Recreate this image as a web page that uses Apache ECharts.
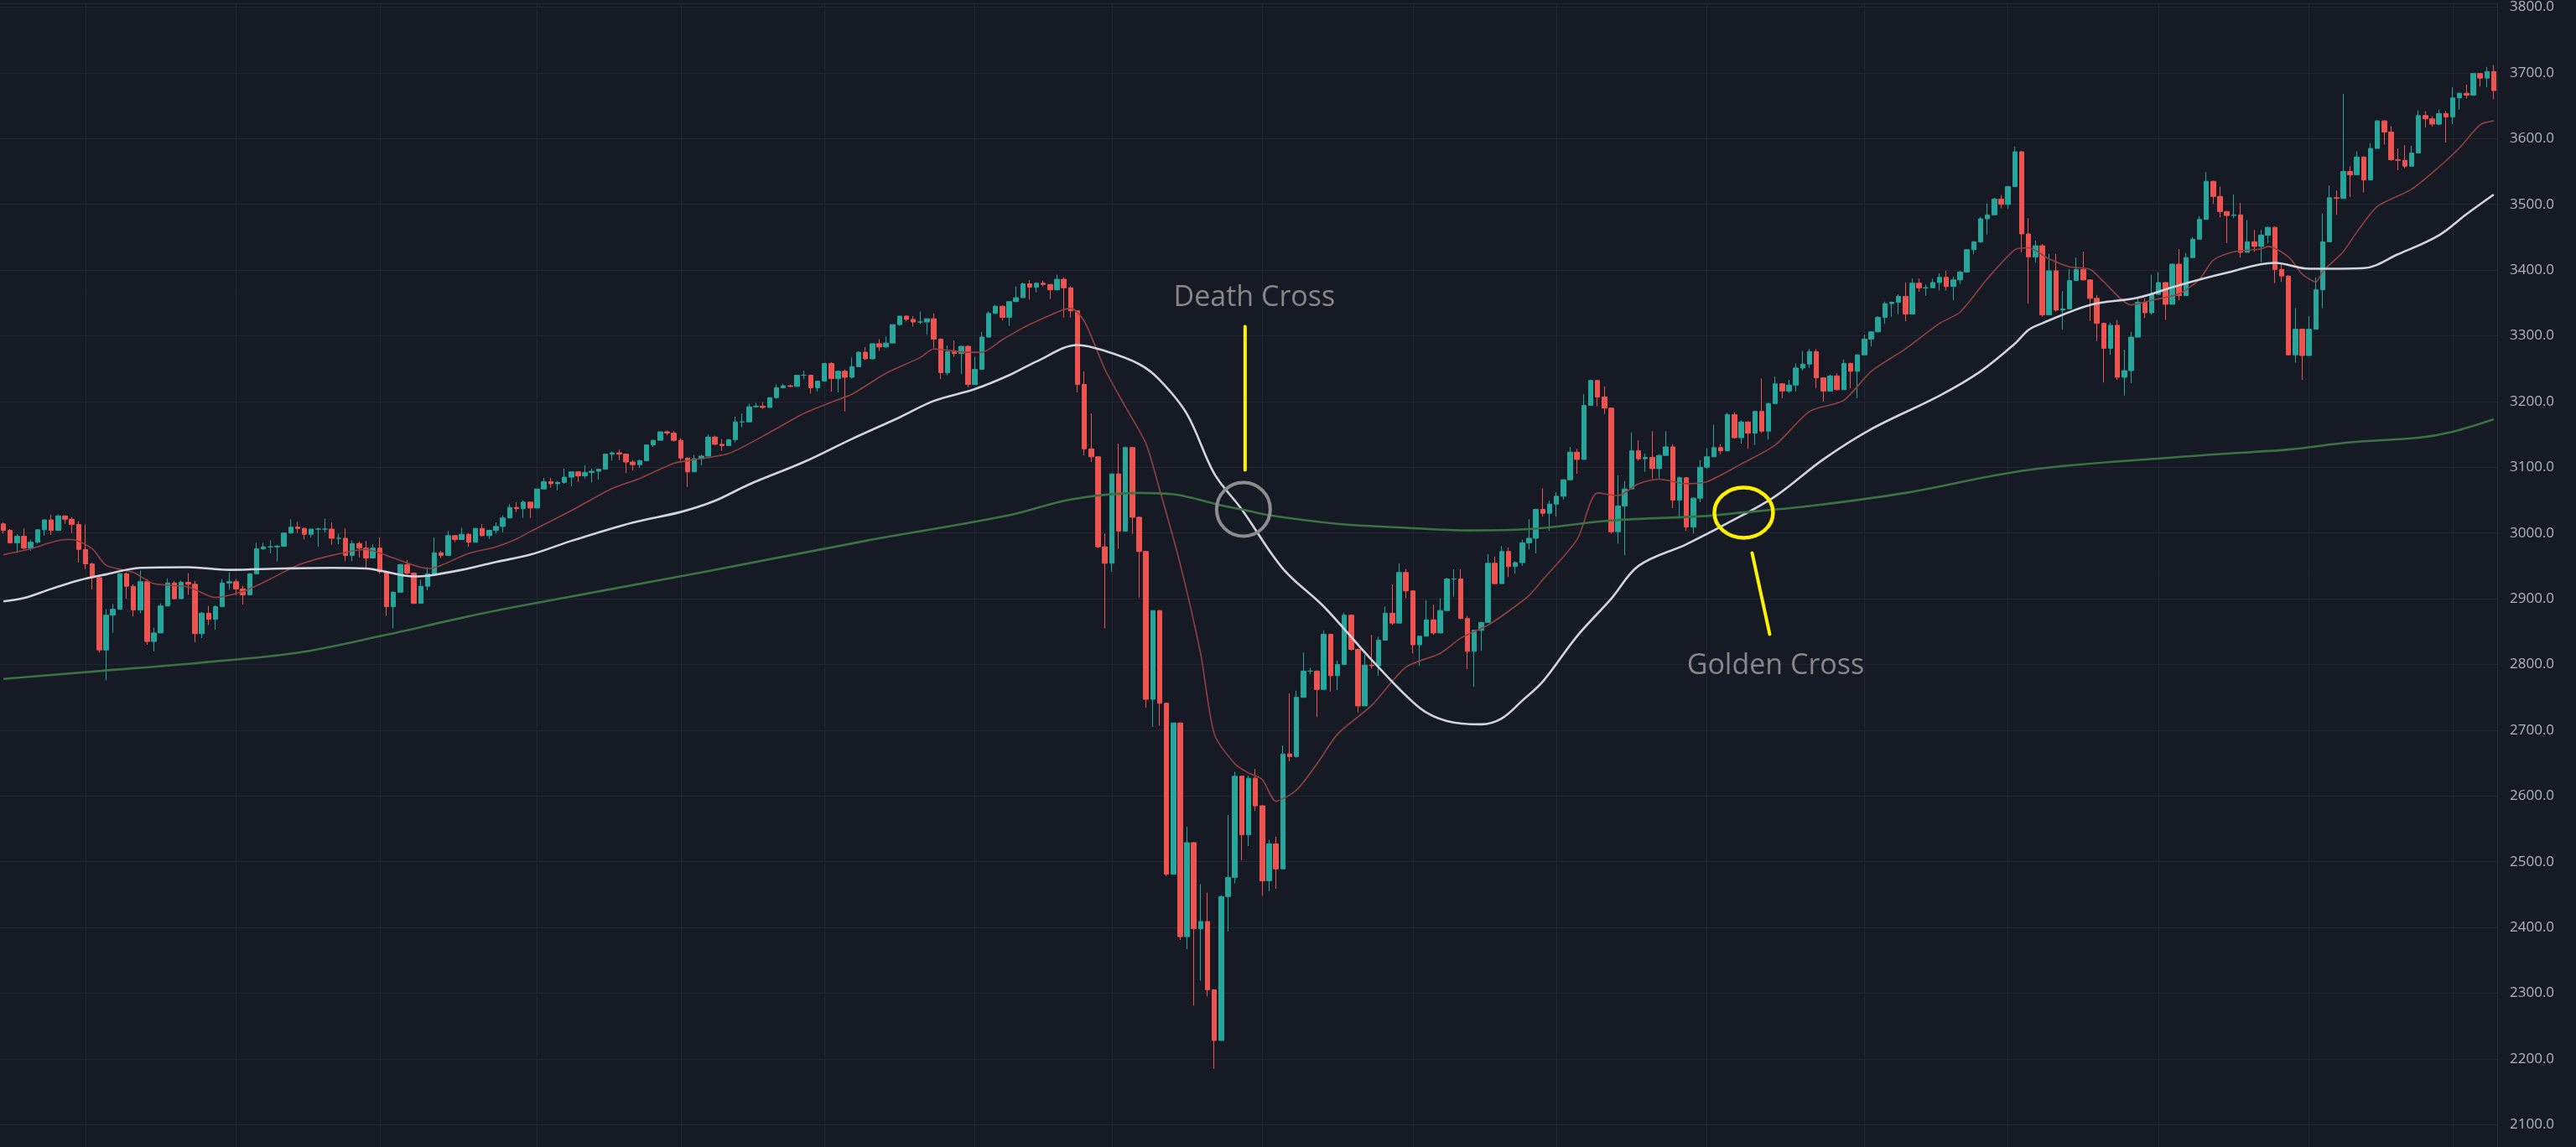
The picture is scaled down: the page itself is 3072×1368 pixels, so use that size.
<!DOCTYPE html>
<html>
<head>
<meta charset="utf-8">
<script src="https://cdn.jsdelivr.net/npm/echarts@6/dist/echarts.min.js"></script>
<style>
html,body{margin:0;padding:0;background:#161a25;}
#chart{width:3072px;height:1368px;}
</style>
</head>
<body>
<div id="chart"></div>
<script>
// Daily candles: [date, open, close, low, high]
const candles = [
['2019-07-16',3014,3004,2999,3016],['2019-07-17',3004,2985,2984,3006],['2019-07-18',2985,2995,2970,2998],['2019-07-19',2995,2977,2975,3007],
['2019-07-22',2977,2986,2973,2990],['2019-07-23',2986,3005,2984,3006],['2019-07-24',3005,3020,2996,3020],['2019-07-25',3020,3004,2997,3028],
['2019-07-26',3004,3026,3003,3028],['2019-07-29',3026,3021,3014,3027],['2019-07-30',3021,3013,3000,3024],['2019-07-31',3013,2975,2955,3018],
['2019-08-01',2975,2953,2945,3013],['2019-08-02',2953,2932,2914,2955],['2019-08-05',2932,2822,2818,2934],['2019-08-06',2822,2875,2776,2884],
['2019-08-07',2875,2884,2848,2892],['2019-08-08',2884,2938,2884,2939],['2019-08-09',2938,2919,2900,2940],['2019-08-12',2919,2883,2873,2922],
['2019-08-13',2883,2926,2878,2943],['2019-08-14',2926,2835,2830,2930],['2019-08-15',2835,2848,2820,2856],['2019-08-16',2848,2889,2848,2893],
['2019-08-19',2889,2924,2889,2931],['2019-08-20',2924,2900,2899,2927],['2019-08-21',2900,2925,2900,2928],['2019-08-22',2925,2922,2906,2939],
['2019-08-23',2922,2847,2834,2927],['2019-08-26',2847,2878,2840,2880],['2019-08-27',2878,2869,2860,2889],['2019-08-28',2869,2888,2853,2890],
['2019-08-29',2888,2924,2888,2930],['2019-08-30',2924,2926,2914,2940],['2019-09-02',2926,2915,2905,2930],['2019-09-03',2915,2906,2891,2920],
['2019-09-04',2906,2938,2906,2939],['2019-09-05',2938,2976,2938,2985],['2019-09-06',2976,2979,2974,2985],['2019-09-09',2979,2979,2969,2989],
['2019-09-10',2979,2980,2957,2982],['2019-09-11',2980,3000,2979,3001],['2019-09-12',3000,3009,2999,3021],['2019-09-13',3009,3007,3000,3017],
['2019-09-16',3007,2998,2990,3008],['2019-09-17',2998,3006,2993,3006],['2019-09-18',3006,3006,2979,3008],['2019-09-19',3006,3006,3001,3022],
['2019-09-20',3006,2992,2982,3016],['2019-09-23',2992,2992,2983,2999],['2019-09-24',2992,2966,2957,3007],['2019-09-25',2966,2984,2957,2989],
['2019-09-26',2984,2977,2963,2987],['2019-09-27',2977,2962,2946,2988],['2019-09-30',2962,2977,2962,2983],['2019-10-01',2977,2941,2938,2993],
['2019-10-02',2941,2888,2874,2943],['2019-10-03',2888,2910,2855,2911],['2019-10-04',2910,2952,2910,2953],['2019-10-07',2952,2939,2937,2959],
['2019-10-08',2939,2893,2892,2940],['2019-10-09',2893,2919,2893,2929],['2019-10-10',2919,2938,2913,2948],['2019-10-11',2938,2970,2938,2993],
['2019-10-14',2970,2966,2962,2973],['2019-10-15',2966,2996,2966,3003],['2019-10-16',2996,2990,2986,2997],['2019-10-17',2990,2998,2990,3008],
['2019-10-18',2998,2986,2979,3000],['2019-10-21',2986,3007,2986,3008],['2019-10-22',3007,2996,2995,3014],['2019-10-23',2996,3004,2991,3005],
['2019-10-24',3004,3010,2999,3016],['2019-10-25',3010,3023,3001,3027],['2019-10-28',3023,3039,3023,3044],['2019-10-29',3039,3037,3032,3047],
['2019-10-30',3037,3047,3023,3050],['2019-10-31',3047,3038,3023,3047],['2019-11-01',3038,3067,3038,3067],['2019-11-04',3067,3078,3067,3084],
['2019-11-05',3078,3075,3069,3084],['2019-11-06',3075,3077,3065,3079],['2019-11-07',3077,3085,3075,3098],['2019-11-08',3085,3093,3071,3094],
['2019-11-11',3093,3087,3078,3094],['2019-11-12',3087,3092,3083,3103],['2019-11-13',3092,3094,3077,3098],['2019-11-14',3094,3097,3081,3098],
['2019-11-15',3097,3120,3097,3120],['2019-11-18',3120,3122,3110,3124],['2019-11-19',3122,3120,3111,3127],['2019-11-20',3120,3108,3091,3121],
['2019-11-21',3108,3104,3095,3111],['2019-11-22',3104,3110,3099,3112],['2019-11-25',3110,3134,3110,3134],['2019-11-26',3134,3141,3131,3142],
['2019-11-27',3141,3154,3141,3154],['2019-11-28',3154,3152,3149,3156],['2019-11-29',3152,3141,3139,3155],['2019-12-02',3141,3114,3110,3144],
['2019-12-03',3114,3093,3070,3115],['2019-12-04',3093,3113,3093,3119],['2019-12-05',3113,3117,3103,3119],['2019-12-06',3117,3146,3117,3150],
['2019-12-09',3146,3135,3134,3148],['2019-12-10',3135,3133,3125,3143],['2019-12-11',3133,3142,3133,3143],['2019-12-12',3142,3169,3138,3177],
['2019-12-13',3169,3169,3161,3182],['2019-12-16',3169,3192,3169,3197],['2019-12-17',3192,3193,3191,3198],['2019-12-18',3193,3191,3189,3199],
['2019-12-19',3191,3206,3191,3206],['2019-12-20',3206,3221,3204,3226],['2019-12-23',3221,3224,3220,3227],['2019-12-24',3224,3223,3222,3226],
['2019-12-26',3223,3240,3223,3240],['2019-12-27',3240,3240,3234,3247],['2019-12-30',3240,3221,3212,3241],['2019-12-31',3221,3231,3215,3231],
['2020-01-02',3231,3258,3231,3258],['2020-01-03',3258,3235,3215,3260],['2020-01-06',3235,3246,3214,3247],['2020-01-07',3246,3237,3185,3249],
['2020-01-08',3237,3253,3235,3267],['2020-01-09',3253,3275,3253,3276],['2020-01-10',3275,3265,3263,3283],['2020-01-13',3265,3288,3264,3288],
['2020-01-14',3288,3283,3277,3295],['2020-01-15',3283,3289,3282,3299],['2020-01-16',3289,3317,3289,3317],['2020-01-17',3317,3330,3315,3330],
['2020-01-20',3330,3325,3322,3331],['2020-01-21',3325,3321,3314,3330],['2020-01-22',3321,3321,3318,3337],['2020-01-23',3321,3326,3302,3326],
['2020-01-24',3326,3295,3281,3334],['2020-01-27',3295,3244,3234,3296],['2020-01-28',3244,3276,3240,3285],['2020-01-29',3276,3273,3268,3293],
['2020-01-30',3273,3284,3242,3285],['2020-01-31',3284,3226,3222,3286],['2020-02-03',3226,3249,3226,3268],['2020-02-04',3249,3298,3249,3306],
['2020-02-05',3298,3334,3298,3337],['2020-02-06',3334,3345,3334,3347],['2020-02-07',3345,3328,3323,3346],['2020-02-10',3328,3352,3315,3352],
['2020-02-11',3352,3358,3352,3375],['2020-02-12',3358,3379,3358,3381],['2020-02-13',3379,3374,3355,3385],['2020-02-14',3374,3380,3366,3381],
['2020-02-17',3380,3378,3375,3384],['2020-02-18',3378,3370,3356,3379],['2020-02-19',3370,3386,3370,3393],['2020-02-20',3386,3373,3328,3389],
['2020-02-21',3373,3338,3328,3375],['2020-02-24',3338,3226,3214,3338],['2020-02-25',3226,3128,3118,3246],['2020-02-26',3128,3116,3108,3182],
['2020-02-27',3116,2979,2977,3117],['2020-02-28',2979,2954,2855,2999],['2020-03-02',2954,3090,2941,3090],['2020-03-03',3090,3003,2976,3136],
['2020-03-04',3003,3130,3003,3130],['2020-03-05',3130,3024,2999,3131],['2020-03-06',3024,2972,2902,3025],['2020-03-09',2972,2747,2734,2973],
['2020-03-10',2747,2882,2705,2882],['2020-03-11',2882,2741,2707,2883],['2020-03-12',2741,2481,2478,2742],['2020-03-13',2481,2711,2481,2711],
['2020-03-16',2711,2386,2381,2712],['2020-03-17',2386,2529,2367,2553],['2020-03-18',2529,2398,2281,2530],['2020-03-19',2398,2409,2319,2466],
['2020-03-20',2409,2305,2295,2453],['2020-03-23',2305,2228,2185,2306],['2020-03-24',2228,2447,2228,2449],['2020-03-25',2447,2476,2394,2571],
['2020-03-26',2476,2630,2467,2637],['2020-03-27',2630,2541,2502,2631],['2020-03-30',2541,2627,2524,2631],['2020-03-31',2627,2585,2577,2641],
['2020-04-01',2585,2471,2448,2586],['2020-04-02',2471,2527,2455,2533],['2020-04-03',2527,2489,2459,2538],['2020-04-06',2489,2664,2489,2677],
['2020-04-07',2664,2660,2653,2756],['2020-04-08',2660,2750,2658,2760],['2020-04-09',2750,2790,2750,2818],['2020-04-10',2790,2790,2785,2795],
['2020-04-13',2790,2762,2720,2791],['2020-04-14',2762,2846,2762,2852],['2020-04-15',2846,2783,2759,2847],['2020-04-16',2783,2800,2761,2806],
['2020-04-17',2800,2875,2800,2879],['2020-04-20',2875,2823,2821,2876],['2020-04-21',2823,2737,2727,2824],['2020-04-22',2737,2799,2737,2815],
['2020-04-23',2799,2798,2794,2845],['2020-04-24',2798,2837,2783,2842],['2020-04-27',2837,2878,2837,2888],['2020-04-28',2878,2863,2860,2922],
['2020-04-29',2863,2940,2863,2954],['2020-04-30',2940,2912,2901,2945],['2020-05-01',2912,2830,2817,2913],['2020-05-04',2830,2843,2798,2844],
['2020-05-05',2843,2868,2843,2898],['2020-05-06',2868,2848,2845,2891],['2020-05-07',2848,2882,2848,2901],['2020-05-08',2882,2930,2882,2932],
['2020-05-11',2930,2930,2903,2945],['2020-05-12',2930,2870,2869,2945],['2020-05-13',2870,2820,2793,2874],['2020-05-14',2820,2852,2766,2852],
['2020-05-15',2852,2864,2821,2865],['2020-05-18',2864,2954,2864,2968],['2020-05-19',2954,2923,2922,2964],['2020-05-20',2923,2972,2923,2980],
['2020-05-21',2972,2949,2933,2978],['2020-05-22',2949,2955,2938,2957],['2020-05-25',2955,2985,2950,2990],['2020-05-26',2985,2992,2975,3021],
['2020-05-27',2992,3036,2969,3036],['2020-05-28',3036,3030,3025,3068],['2020-05-29',3030,3044,3003,3049],['2020-06-01',3044,3056,3025,3062],
['2020-06-02',3056,3081,3051,3081],['2020-06-03',3081,3123,3081,3131],['2020-06-04',3123,3112,3090,3128],['2020-06-05',3112,3194,3112,3211],
['2020-06-08',3194,3232,3194,3233],['2020-06-09',3232,3207,3193,3233],['2020-06-10',3207,3190,3181,3223],['2020-06-11',3190,3002,2999,3191],
['2020-06-12',3002,3041,2984,3088],['2020-06-15',3041,3067,2966,3079],['2020-06-16',3067,3125,3067,3153],['2020-06-17',3125,3113,3110,3141],
['2020-06-18',3113,3115,3093,3121],['2020-06-19',3115,3098,3083,3155],['2020-06-22',3098,3118,3083,3120],['2020-06-23',3118,3131,3118,3155],
['2020-06-24',3131,3050,3038,3135],['2020-06-25',3050,3084,3025,3086],['2020-06-26',3084,3009,3003,3085],['2020-06-29',3009,3053,2999,3054],
['2020-06-30',3053,3100,3047,3111],['2020-07-01',3100,3116,3098,3129],['2020-07-02',3116,3130,3116,3165],['2020-07-03',3130,3125,3120,3135],
['2020-07-06',3125,3180,3125,3183],['2020-07-07',3180,3145,3144,3184],['2020-07-08',3145,3169,3136,3171],['2020-07-09',3169,3152,3128,3170],
['2020-07-10',3152,3185,3134,3186],['2020-07-13',3185,3155,3152,3235],['2020-07-14',3155,3197,3142,3198],['2020-07-15',3197,3227,3197,3238],
['2020-07-16',3227,3216,3205,3228],['2020-07-17',3216,3225,3213,3233],['2020-07-20',3225,3251,3215,3258],['2020-07-21',3251,3257,3247,3277],
['2020-07-22',3257,3276,3251,3280],['2020-07-23',3276,3236,3220,3280],['2020-07-24',3236,3216,3200,3237],['2020-07-27',3216,3239,3216,3241],
['2020-07-28',3239,3218,3217,3243],['2020-07-29',3218,3258,3218,3264],['2020-07-30',3258,3246,3220,3259],['2020-07-31',3246,3271,3205,3272],
['2020-08-03',3271,3295,3271,3302],['2020-08-04',3295,3306,3284,3307],['2020-08-05',3306,3328,3306,3330],['2020-08-06',3328,3349,3318,3352],
['2020-08-07',3349,3351,3329,3352],['2020-08-10',3351,3360,3333,3363],['2020-08-11',3360,3333,3322,3381],['2020-08-12',3333,3380,3333,3387],
['2020-08-13',3380,3373,3367,3387],['2020-08-14',3373,3373,3361,3378],['2020-08-17',3373,3381,3373,3387],['2020-08-18',3381,3389,3369,3395],
['2020-08-19',3389,3375,3369,3399],['2020-08-20',3375,3385,3354,3390],['2020-08-21',3385,3397,3379,3399],['2020-08-24',3397,3431,3397,3432],
['2020-08-25',3431,3443,3424,3444],['2020-08-26',3443,3478,3441,3481],['2020-08-27',3478,3484,3454,3501],['2020-08-28',3484,3508,3484,3510],
['2020-08-31',3508,3500,3494,3514],['2020-09-01',3500,3527,3493,3528],['2020-09-02',3527,3580,3527,3588],['2020-09-03',3580,3455,3427,3581],
['2020-09-04',3455,3420,3349,3479],['2020-09-07',3420,3437,3412,3445],['2020-09-08',3437,3332,3329,3440],['2020-09-09',3332,3399,3332,3425],
['2020-09-10',3399,3339,3337,3425],['2020-09-11',3339,3341,3310,3368],['2020-09-14',3341,3384,3341,3402],['2020-09-15',3384,3401,3384,3419],
['2020-09-16',3401,3385,3384,3428],['2020-09-17',3385,3357,3323,3386],['2020-09-18',3357,3319,3292,3362],['2020-09-21',3319,3281,3229,3320],
['2020-09-22',3281,3316,3271,3320],['2020-09-23',3316,3237,3233,3324],['2020-09-24',3237,3247,3209,3279],['2020-09-25',3247,3298,3228,3306],
['2020-09-28',3298,3351,3298,3360],['2020-09-29',3351,3335,3327,3357],['2020-09-30',3335,3363,3332,3393],['2020-10-01',3363,3381,3363,3397],
['2020-10-02',3381,3348,3324,3382],['2020-10-05',3348,3409,3348,3410],['2020-10-06',3409,3361,3354,3432],['2020-10-07',3361,3419,3361,3426],
['2020-10-08',3419,3447,3419,3450],['2020-10-09',3447,3477,3447,3482],['2020-10-12',3477,3535,3477,3549],['2020-10-13',3535,3512,3501,3536],
['2020-10-14',3512,3489,3480,3527],['2020-10-15',3489,3483,3441,3490],['2020-10-16',3483,3484,3479,3515],['2020-10-19',3484,3427,3419,3502],
['2020-10-20',3427,3443,3427,3476],['2020-10-21',3443,3436,3428,3461],['2020-10-22',3436,3453,3412,3461],['2020-10-23',3453,3465,3441,3466],
['2020-10-26',3465,3401,3380,3466],['2020-10-27',3401,3391,3382,3409],['2020-10-28',3391,3271,3270,3392],['2020-10-29',3271,3310,3259,3342],
['2020-10-30',3310,3270,3233,3311],['2020-11-02',3270,3310,3270,3330],['2020-11-03',3310,3370,3310,3389],['2020-11-04',3370,3443,3342,3486],
['2020-11-05',3443,3510,3443,3529],['2020-11-06',3510,3509,3484,3521],['2020-11-09',3509,3550,3509,3668],['2020-11-10',3550,3545,3511,3558],
['2020-11-11',3545,3572,3545,3581],['2020-11-12',3572,3537,3518,3573],['2020-11-13',3537,3585,3537,3593],['2020-11-16',3585,3627,3585,3628],
['2020-11-17',3627,3610,3591,3628],['2020-11-18',3610,3568,3566,3619],['2020-11-19',3568,3567,3552,3585],['2020-11-20',3567,3558,3555,3590],
['2020-11-23',3558,3578,3558,3589],['2020-11-24',3578,3635,3578,3643],['2020-11-25',3635,3630,3617,3642],['2020-11-26',3630,3622,3618,3634],
['2020-11-27',3622,3638,3620,3644],['2020-11-30',3638,3633,3594,3642],['2020-12-01',3633,3662,3622,3678],['2020-12-02',3662,3669,3644,3670],
['2020-12-03',3669,3666,3661,3682],['2020-12-04',3666,3699,3666,3699],['2020-12-07',3699,3692,3679,3700],['2020-12-08',3692,3702,3678,3709],
['2020-12-09',3702,3673,3660,3712]
];

// Moving averages: [candle index, value]
const maFast = [
[0,2967],[4,2976],[9,2990],[10,2990],[13,2976],[15,2951],[19,2940],[22,2923],[27,2918],[31,2902],[35,2911],[39,2930],[43,2951],
[48,2966],[53,2975],[57,2962],[62,2946],[64,2951],[68,2969],[72,2979],[75,2991],[77,3002],[83,3034],[89,3068],[93,3083],[98,3106],
[100,3110],[106,3121],[112,3153],[117,3182],[121,3199],[124,3211],[129,3243],[134,3267],[136,3280],[141,3275],[143,3275],[146,3294],
[149,3312],[151,3322],[156,3342],[158,3322],[161,3249],[164,3192],[167,3136],[169,3066],[172,2953],[175,2816],[177,2694],[180,2649],
[182,2635],[184,2625],[186,2592],[189,2609],[192,2649],[195,2694],[200,2738],[205,2796],[210,2817],[213,2840],[217,2860],[220,2881],
[223,2905],[225,2929],[230,2990],[233,3061],[236,3057],[239,3075],[242,3082],[246,3075],[249,3078],[254,3105],[259,3134],[264,3185],
[269,3202],[273,3246],[278,3280],[283,3319],[286,3336],[290,3387],[294,3431],[296,3434],[299,3417],[302,3405],[305,3401],[307,3382],
[311,3347],[314,3354],[318,3364],[321,3386],[323,3415],[326,3428],[330,3432],[331,3436],[334,3420],[336,3394],[338,3382],[339,3398],
[342,3428],[344,3458],[347,3497],[352,3523],[356,3557],[359,3586],[362,3621],[364,3627]
];
const maMid = [
[0,2896],[3,2901],[7,2915],[11,2928],[15,2937],[20,2947],[27,2948],[33,2944],[41,2946],[48,2947],[53,2946],[55,2943],[60,2934],
[62,2935],[67,2944],[72,2956],[77,2967],[83,2988],[92,3016],[99,3032],[104,3049],[109,3074],[117,3108],[124,3143],[131,3176],
[136,3201],[142,3219],[147,3240],[151,3261],[157,3286],[161,3277],[166,3257],[169,3233],[173,3181],[177,3090],[181,3036],[187,2946],
[193,2888],[200,2807],[207,2734],[211,2714],[216,2709],[219,2718],[222,2745],[225,2774],[230,2843],[235,2900],[239,2950],[246,2983],
[252,3015],[259,3056],[266,3112],[273,3158],[283,3209],[289,3246],[294,3288],[296,3309],[298,3319],[305,3347],[312,3358],[318,3377],
[325,3396],[332,3411],[337,3402],[339,3402],[345,3403],[350,3424],[356,3453],[360,3485],[364,3515]
];
const maSlow = [
[0,2778],[14,2790],[29,2803],[43,2818],[55,2843],[67,2871],[75,2888],[102,2940],[126,2988],[147,3027],[156,3051],[166,3061],
[171,3059],[178,3042],[181,3036],[185,3027],[195,3014],[205,3008],[214,3004],[223,3006],[235,3019],[249,3026],[254,3031],[264,3041],
[278,3061],[296,3096],[321,3118],[334,3127],[343,3138],[353,3145],[358,3154],[364,3173]
];

// Annotated crossings: [label, candle index, price]
const crosses = [
['Death Cross', 181, 3036],
['Golden Cross', 254, 3031]
];

const dates = candles.map(r => r[0]);
const ohlc = candles.map(r => [r[1], r[2], r[3], r[4]]);
const monthStart = i => i > 0 && dates[i].slice(0, 7) !== dates[i - 1].slice(0, 7);

const chart = echarts.init(document.getElementById('chart'), null, {renderer: 'canvas'});
const gridColor = '#222632';
chart.setOption({
  animation: false,
  backgroundColor: '#161a25',
  grid: {left: 0, right: 94, top: 0, bottom: 0, containLabel: false},
  xAxis: {
    type: 'category', data: dates, boundaryGap: true,
    axisLine: {show: false}, axisTick: {show: false}, axisLabel: {show: false},
    splitLine: {show: true, interval: (i) => monthStart(i), alignWithLabel: true, lineStyle: {color: gridColor, width: 1}}
  },
  yAxis: {
    type: 'value', position: 'right', min: 2066, max: 3805, splitNumber: 17, scale: true,
    axisLine: {show: true, lineStyle: {color: '#2c303b', width: 1}},
    axisTick: {show: false},
    axisLabel: {
      color: '#b2b5be', fontSize: 17, fontFamily: 'Open Sans', margin: 15,
      formatter: v => (Math.abs(v / 100 - Math.round(v / 100)) < 1e-6 ? v.toFixed(1) : '')
    },
    splitLine: {show: true, lineStyle: {color: gridColor, width: 1}}
  },
  series: [
    {
      type: 'candlestick', data: ohlc, barWidth: 6, z: 2,
      itemStyle: {color: '#26a69a', color0: '#ef5350', borderColor: '#26a69a', borderColor0: '#ef5350', borderWidth: 1}
    },
    {type: 'line', data: maFast, showSymbol: false, symbol: 'none', smooth: 0.25, z: 3,
     lineStyle: {color: '#93403f', width: 1.6}},
    {type: 'line', data: maMid, showSymbol: false, symbol: 'none', smooth: 0.35, z: 4,
     lineStyle: {color: '#d1d4dc', width: 2.6}},
    {type: 'line', data: maSlow, showSymbol: false, symbol: 'none', smooth: 0.35, z: 4,
     lineStyle: {color: '#3a7242', width: 2.6}}
  ]
});

// annotation overlay anchored to the data coordinates of the crossings
const yellow = '#fff200';
const txtFont = '34px "Open Sans", sans-serif';
const els = [];
crosses.forEach(([label, idx, price], k) => {
  const p = chart.convertToPixel({xAxisIndex: 0, yAxisIndex: 0}, [idx, price]);
  const x = p[0], y = p[1];
  if (k === 0) {
    els.push({type: 'circle', shape: {cx: x + 2, cy: y, r: 32}, style: {fill: 'none', stroke: '#8d8d8d', lineWidth: 4}, z: 100});
    els.push({type: 'line', shape: {x1: x + 4, y1: y - 218, x2: x + 4, y2: y - 47}, style: {stroke: yellow, lineWidth: 4, lineCap: 'round'}, z: 100});
    els.push({type: 'text', x: x + 15, y: y - 252, style: {text: label, font: txtFont, fill: '#878787', align: 'center', verticalAlign: 'middle', textAlign: 'center', textVerticalAlign: 'middle'}, z: 100});
  } else {
    els.push({type: 'ellipse', shape: {cx: x + 3, cy: y, rx: 35, ry: 30}, style: {fill: 'none', stroke: yellow, lineWidth: 4.5}, z: 100});
    els.push({type: 'line', shape: {x1: x + 13, y1: y + 48, x2: x + 34, y2: y + 145}, style: {stroke: yellow, lineWidth: 4, lineCap: 'round'}, z: 100});
    els.push({type: 'text', x: x + 41, y: y + 183, style: {text: label, font: txtFont, fill: '#878787', align: 'center', verticalAlign: 'middle', textAlign: 'center', textVerticalAlign: 'middle'}, z: 100});
  }
});
chart.setOption({graphic: {elements: els}});
</script>
</body>
</html>
